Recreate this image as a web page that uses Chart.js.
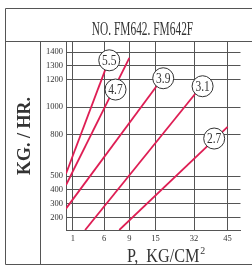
<!DOCTYPE html>
<html><head><meta charset="utf-8">
<script src="https://cdn.jsdelivr.net/npm/chart.js@4/dist/chart.umd.min.js"></script>
<style>html,body{margin:0;padding:0;background:#fff;overflow:hidden}#wrap{position:relative;width:252px;height:267px}</style>
</head><body><div id="wrap"><canvas id="c" width="252" height="267"></canvas></div>
<script>
const chartTitle = 'NO. FM642. FM642F';
const yTitle = 'KG. / HR.';
const xTitle = 'P,  KG/CM';
const xTitleSup = '2';
const pressureTicks = [1, 6, 9, 15, 32, 45];
const kgTicks = [200, 300, 400, 500, 800, 1000, 1200, 1300, 1400];
const orifices = ['5.5', '4.7', '3.9', '3.1', '2.7'];
const lineStartP = [0, 0, 0, 2.95, 7.8];
const lineStartKg = [518, 436, 265, 110, 110];
const lineEndP = [6.3, 9, 16.5, 33, 45];
const lineEndKg = [1300, 1357, 1175, 1110, 858];
const labelP = [6.6, 7.35, 18.4, 35.3, 39.8];
const labelKg = [1340, 1128, 1210, 1152, 773];
// the nomograph's pressure axis is non-uniform: value breakpoints and their share of the axis width
const pBreaks = [0, 1, 6, 9, 15, 32, 45, 50];
const pShare = [0, 0.0394, 0.219, 0.363, 0.513, 0.734, 0.926, 1];

const RED = 'rgb(222,30,84)';
const INK = '#333';
const GRID = '#555';
const SERIF = '"Liberation Serif", "Times New Roman", serif';

function interp(v, xs, ys) {
  const n = xs.length - 1;
  if (v <= xs[0]) return ys[0] + (v - xs[0]) * (ys[1] - ys[0]) / (xs[1] - xs[0]);
  for (let i = 1; i <= n; i++) {
    if (v <= xs[i]) return ys[i - 1] + (v - xs[i - 1]) * (ys[i] - ys[i - 1]) / (xs[i] - xs[i - 1]);
  }
  return ys[n] + (v - xs[n]) * (ys[n] - ys[n - 1]) / (xs[n] - xs[n - 1]);
}

class NomoScale extends Chart.LinearScale {
  buildTicks() {
    this.start = this.min; this.end = this.max;
    return pressureTicks.map(v => ({ value: v }));
  }
  getPixelForValue(v) { return this.left + interp(v, pBreaks, pShare) * this.width; }
  getValueForPixel(px) { return interp((px - this.left) / this.width, pShare, pBreaks); }
}
NomoScale.id = 'nomo';
NomoScale.defaults = Chart.LinearScale.defaults;
Chart.register(NomoScale);

const framePlugin = {
  id: 'frame',
  beforeDraw(chart) {
    const ctx = chart.ctx;
    ctx.save();
    ctx.fillStyle = '#fff';
    ctx.fillRect(0, 0, chart.width, chart.height);
    ctx.strokeStyle = GRID;
    ctx.lineWidth = 1;
    ctx.beginPath();
    ctx.moveTo(260, 8.5); ctx.lineTo(5.5, 8.5); ctx.lineTo(5.5, 264.5); ctx.lineTo(260, 264.5);
    ctx.moveTo(5.5, 41.5); ctx.lineTo(260, 41.5);
    ctx.moveTo(40.5, 41.5); ctx.lineTo(40.5, 264.5);
    ctx.stroke();
    ctx.fillStyle = INK;
    // title
    ctx.save();
    ctx.translate(142.5, 34.5);
    ctx.scale(0.6, 1);
    ctx.font = '19px ' + SERIF;
    ctx.textAlign = 'center';
    ctx.textBaseline = 'alphabetic';
    ctx.fillText(chartTitle, 0, 0);
    ctx.restore();
    // y title
    ctx.save();
    ctx.translate(29.5, 136);
    ctx.rotate(-Math.PI / 2);
    ctx.font = 'bold 18px ' + SERIF;
    ctx.textAlign = 'center';
    ctx.textBaseline = 'alphabetic';
    ctx.fillText(yTitle, 0, 0);
    ctx.restore();
    // x title
    ctx.save();
    ctx.translate(127, 262);
    ctx.scale(0.9, 1);
    ctx.font = '18px ' + SERIF;
    ctx.textAlign = 'left';
    ctx.textBaseline = 'alphabetic';
    ctx.fillText(xTitle, 0, 0);
    const w = ctx.measureText(xTitle).width;
    ctx.font = '11px ' + SERIF;
    ctx.fillText(xTitleSup, w + 1, -8);
    ctx.restore();
    ctx.restore();
  },
  afterDatasetsDraw(chart) {
    const meta = chart.getDatasetMeta(0);
    const ctx = chart.ctx;
    ctx.save();
    ctx.fillStyle = INK;
    ctx.font = '14px ' + SERIF;
    ctx.textAlign = 'center';
    ctx.textBaseline = 'middle';
    meta.data.forEach((pt, i) => {
      ctx.save();
      ctx.translate(pt.x, pt.y + 1);
      ctx.scale(0.82, 1);
      ctx.fillText(orifices[i], 0, 0);
      ctx.restore();
    });
    ctx.restore();
  }
};

const datasets = [{
  type: 'scatter',
  label: 'orifice',
  data: labelP.map((p, i) => ({ x: p, y: labelKg[i] })),
  pointStyle: 'circle',
  pointRadius: 10.5,
  backgroundColor: '#fff',
  borderColor: INK,
  borderWidth: 1,
  order: 0,
  clip: false
}].concat(orifices.map((o, i) => ({
  type: 'line',
  label: o,
  data: [{ x: lineStartP[i], y: lineStartKg[i] }, { x: lineEndP[i], y: lineEndKg[i] }],
  borderColor: RED,
  borderWidth: 1.8,
  pointRadius: 0,
  fill: false,
  order: 1
})));

new Chart(document.getElementById('c'), {
  data: { datasets },
  options: {
    responsive: false,
    animation: false,
    layout: { padding: { top: 41, left: 0, right: 0, bottom: 0 } },
    plugins: { legend: { display: false }, tooltip: { enabled: false } },
    scales: {
      x: {
        type: 'nomo',
        min: 0, max: 50,
        afterFit(s) { s.height = 37; },
        grid: { color: GRID, lineWidth: 1, drawTicks: false },
        border: { color: GRID, width: 1 },
        ticks: {
          autoSkip: false, maxRotation: 0, padding: 4, color: INK,
          font: { family: SERIF, size: 8.5 },
          callback: v => String(v)
        }
      },
      y: {
        type: 'linear',
        min: 110, max: 1480,
        bounds: 'data',
        afterBuildTicks(s) { s.ticks = kgTicks.map(v => ({ value: v })); },
        afterFit(s) { s.width = 66; },
        grid: { color: GRID, lineWidth: 1, drawTicks: false },
        border: { color: GRID, width: 1 },
        ticks: {
          autoSkip: false, padding: 3, color: INK,
          font: { family: SERIF, size: 8.5 },
          callback: v => String(v)
        }
      }
    }
  },
  plugins: [framePlugin]
});
</script></body></html>
